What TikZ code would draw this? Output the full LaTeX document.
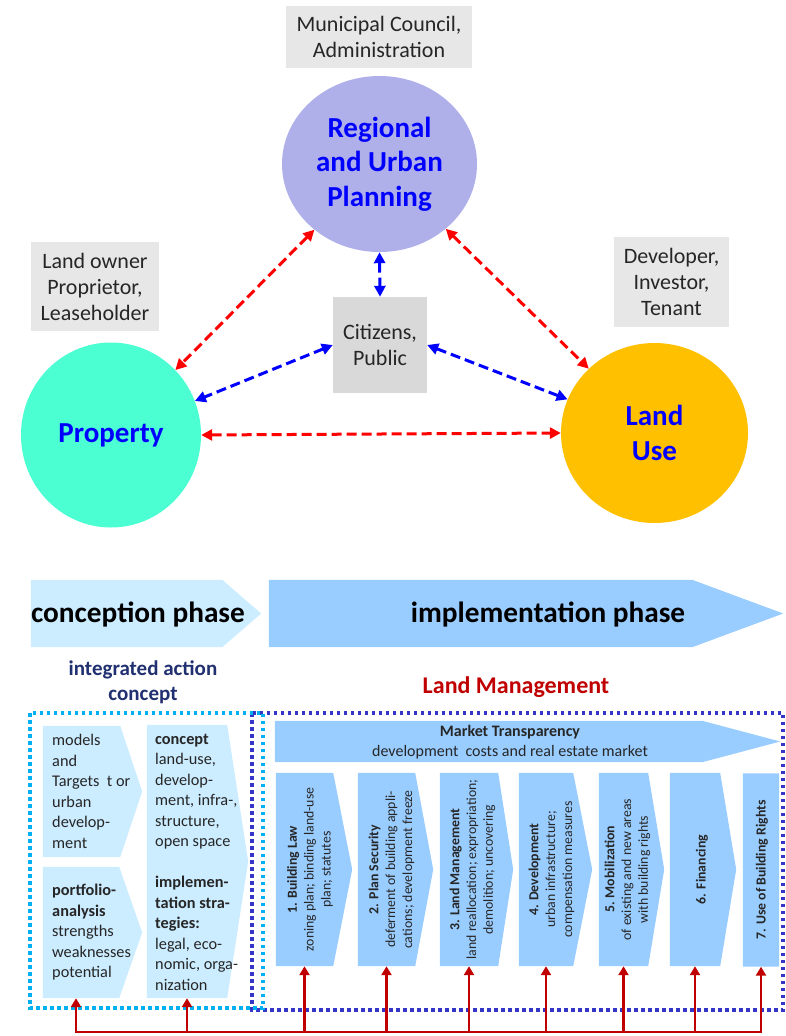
\documentclass[tikz,border=0pt]{standalone}
\usepackage{fontspec}
\setmainfont{Carlito}
\usetikzlibrary{arrows.meta}
\usetikzlibrary{calc}
\usetikzlibrary{shapes.geometric}

\definecolor{regfill}{HTML}{AFAFEA}
\definecolor{propfill}{HTML}{4BFFD2}
\definecolor{usefill}{HTML}{FFC000}
\definecolor{boxgray}{HTML}{E7E7E7}
\definecolor{citgray}{HTML}{D9D9D9}
\definecolor{inktext}{HTML}{262626}
\definecolor{lightchev}{HTML}{CCECFF}
\definecolor{darkchev}{HTML}{99CCFF}
\definecolor{dotlight}{HTML}{00B0F0}
\definecolor{dotdark}{HTML}{3535C8}
\definecolor{navytext}{HTML}{203070}
\definecolor{darkred}{HTML}{C00000}

% chevron fill from a body node: node, tip length, colour
\newcommand{\chevfill}[3]{\fill[#3] (#1.north west) -- (#1.north east) -- ([xshift=#2]#1.east) -- (#1.south east) -- (#1.south west) -- cycle;}

\begin{document}
\begin{tikzpicture}[x=1pt, y=-1pt,
    actor/.style={rectangle, fill=boxgray, text=inktext, inner sep=0pt, align=center, font=\fontsize{22}{26}\selectfont},
    field/.style={ellipse, inner sep=0pt, text=blue, align=center, font=\bfseries\fontsize{29}{34.5}\selectfont},
    reddash/.style={draw=red, line width=3pt, dash pattern=on 10pt off 5pt, {Triangle[length=11pt,width=11pt]}-{Triangle[length=11pt,width=11pt]}},
    bluedash/.style={draw=blue, line width=3pt, dash pattern=on 10pt off 5pt, {Triangle[length=11pt,width=11pt]}-{Triangle[length=11pt,width=11pt]}},
    chevbody/.style={rectangle, inner sep=0pt},
    phase/.style={inner sep=0pt, font=\bfseries\fontsize{29.3}{35}\selectfont},
    smalltxt/.style={inner sep=0pt, align=left, text=inktext, font=\fontsize{16.3}{20.5}\selectfont},
    midtxt/.style={inner sep=0pt, align=center, text=inktext, font=\fontsize{16}{20}\selectfont},
    steptxt/.style={rotate=90, inner sep=0pt, align=center, text=inktext, font=\fontsize{13.8}{16.8}\selectfont},
    dotframe/.style={line width=3.5pt, dash pattern=on 3.5pt off 3.5pt},
    feedline/.style={draw=darkred, line width=2.8pt, line cap=rect},
    feed/.style={draw=darkred, line width=2.8pt, -{Triangle[length=9pt,width=10pt]}}]

  \useasboundingbox (0,0) rectangle (785,1036);

  % actors and fields
  \node[actor, minimum width=186, minimum height=62] (council) at (379,37) {Municipal Council,\\Administration};
  \node[field, fill=regfill, minimum width=195, minimum height=176] (reg) at (379.5,164) {Regional\\and Urban\\Planning};
  \node[actor, minimum width=128, minimum height=89] (owner) at (95,286.5) {Land owner\\Proprietor,\\Leaseholder};
  \node[actor, minimum width=115, minimum height=90] (dev) at (671.5,282) {Developer,\\Investor,\\Tenant};
  \node[actor, fill=citgray, minimum width=94, minimum height=96] (cit) at (380,345) {Citizens,\\Public};
  \node[field, fill=propfill, minimum width=180, minimum height=185] (prop) at (111,435) {Property};
  \node[field, fill=usefill, minimum width=187, minimum height=180] (use) at (654.5,433) {Land\\Use};

  \draw[reddash] (reg) -- (prop);
  \draw[reddash] (reg) -- (use);
  \draw[reddash] (prop.east) -- (use.west);
  \draw[bluedash] (reg.south) -- (cit.north);
  \draw[bluedash] (cit.west) -- (prop);
  \draw[bluedash] (cit.east) -- (use);

  % phases
  \node[chevbody, minimum width=191, minimum height=67] (conph) at (126.5,613.5) {};
  \chevfill{conph}{39pt}{lightchev}
  \node[phase] (conphtxt) at (138,614) {conception phase};
  \node[chevbody, minimum width=423, minimum height=67] (impph) at (480.5,613.5) {};
  \chevfill{impph}{91pt}{darkchev}
  \node[phase] (impphtxt) at (548,614) {implementation phase};

  \node[inner sep=0pt, align=center, text=navytext, font=\bfseries\fontsize{21}{25}\selectfont] (iac) at (143,682) {integrated action\\concept};
  \node[inner sep=0pt, text=darkred, font=\bfseries\fontsize{24}{28}\selectfont] (lm) at (516,687) {Land Management};

  \draw[dotdark, dotframe] (252,713) rectangle (783,1010);
  \draw[dotlight, dotframe] (30,713) rectangle (263,1008);

  % integrated action concept
  \node[chevbody, minimum width=77, minimum height=131] (mod) at (81.5,791.5) {};
  \chevfill{mod}{22pt}{lightchev}
  \node[smalltxt, anchor=west] (modtxt) at (52,791.5) {models\\and\\Targets\ \ t or\\urban\\develop-\\ment};
  \node[chevbody, minimum width=76, minimum height=131] (pf) at (81,932.5) {};
  \chevfill{pf}{23pt}{lightchev}
  \node[smalltxt, anchor=west] (pftxt) at (52,932.5) {\textbf{portfolio-}\\\textbf{analysis}\\strengths\\weaknesses\\potential};
  \node[chevbody, minimum width=80, minimum height=273] (con) at (187,861.5) {};
  \chevfill{con}{21pt}{lightchev}
  \node[smalltxt, anchor=west] (contxt) at (155,862) {\textbf{concept}\\land-use,\\develop-\\ment, infra-,\\structure,\\open space\\[20.5pt]\textbf{implemen-}\\\textbf{tation stra-}\\\textbf{tegies:}\\legal, eco-\\nomic, orga-\\nization};

  % land management
  \node[chevbody, minimum width=427, minimum height=41] (mkt) at (488.5,741.5) {};
  \chevfill{mkt}{78pt}{darkchev}
  \node[midtxt] (mkttxt) at (510,742) {\textbf{Market Transparency}\\development\ \ costs and real estate market};

  \node[chevbody, minimum width=57, minimum height=193] (b1) at (304.5,869.5) {};
  \chevfill{b1}{19pt}{darkchev}
  \node[steptxt] (t1) at (310,869.5) {\textbf{1. Building Law}\\zoning plan; binding land-use\\plan; statutes};
  \node[chevbody, minimum width=57, minimum height=193] (b2) at (386.5,869.5) {};
  \chevfill{b2}{18pt}{darkchev}
  \node[steptxt] (t2) at (391.5,869.5) {\textbf{2. Plan Security}\\deferment of building appli-\\cations; development freeze};
  \node[chevbody, minimum width=58, minimum height=193] (b3) at (469,869.5) {};
  \chevfill{b3}{15pt}{darkchev}
  \node[steptxt] (t3) at (472.5,869.5) {\textbf{3. Land Management}\\land reallocation; expropriation;\\demolition; uncovering};
  \node[chevbody, minimum width=54, minimum height=193] (b4) at (546,869.5) {};
  \chevfill{b4}{19pt}{darkchev}
  \node[steptxt] (t4) at (551.5,869.5) {\textbf{4. Development}\\urban infrastructure;\\compensation measures};
  \node[chevbody, minimum width=49, minimum height=193] (b5) at (623.5,869.5) {};
  \chevfill{b5}{16pt}{darkchev}
  \node[steptxt] (t5) at (627.5,869.5) {\textbf{5. Mobilization}\\of existing and new areas\\with building rights};
  \node[chevbody, minimum width=50, minimum height=193] (b6) at (695,869.5) {};
  \chevfill{b6}{16pt}{darkchev}
  \node[steptxt] (t6) at (702,869.5) {\textbf{6. Financing}};
  \node[chevbody, minimum width=36, minimum height=193] (b7) at (761,870) {};
  \chevfill{b7}{0pt}{darkchev}
  \node[steptxt] (t7) at (762,870) {\textbf{7. Use of Building Rights}};

  % feedback
  \coordinate (busL) at (76,1032);
  \coordinate (busR) at (b7.south |- busL);
  \draw[feedline] (busL) -- (busR);
  \draw[feed] (busL) -- (busL |- pf.south);
  \draw[feed] (con.south |- busL) -- (con.south);
  \draw[feed] (b1.south |- busL) -- (b1.south);
  \draw[feed] (b2.south |- busL) -- (b2.south);
  \draw[feed] (b3.south |- busL) -- (b3.south);
  \draw[feed] (b4.south |- busL) -- (b4.south);
  \draw[feed] (b5.south |- busL) -- (b5.south);
  \draw[feed] (b6.south |- busL) -- (b6.south);
  \draw[feed] (busR) -- (b7.south);
\end{tikzpicture}
\end{document}
